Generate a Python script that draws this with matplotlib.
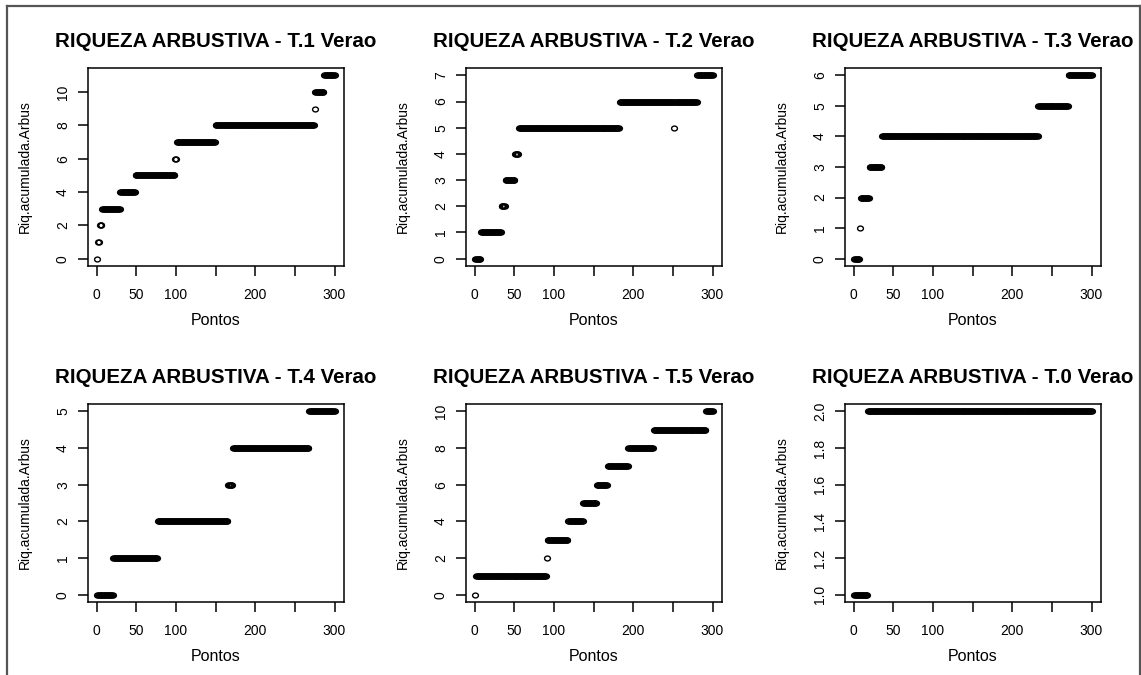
import numpy as np
import matplotlib
matplotlib.use("Agg")
import matplotlib.pyplot as plt
from matplotlib.path import Path
from matplotlib.transforms import Affine2D
from matplotlib.lines import Line2D

plt.rcParams["font.family"] = ["Liberation Sans", "DejaVu Sans"]

# ---------------- data ----------------
n_points = 300
titles = ["RIQUEZA ARBUSTIVA - T.1 Verao", "RIQUEZA ARBUSTIVA - T.2 Verao",
          "RIQUEZA ARBUSTIVA - T.3 Verao", "RIQUEZA ARBUSTIVA - T.4 Verao",
          "RIQUEZA ARBUSTIVA - T.5 Verao", "RIQUEZA ARBUSTIVA - T.0 Verao"]
x_label = "Pontos"
y_label = "Riq.acumulada.Arbus"

# cumulative richness: point index where each value starts, and the value
t1_starts = [1, 2, 4, 7, 30, 49, 99, 101, 150, 275, 276, 287]
t1_values = [0, 1, 2, 3, 4, 5, 6, 7, 8, 9, 10, 11]
t2_starts = [1, 8, 34, 39, 51, 56, 183, 251, 252, 281]
t2_values = [0, 1, 2, 3, 4, 5, 6, 5, 6, 7]
t3_starts = [1, 8, 9, 20, 36, 233, 271]
t3_values = [0, 1, 2, 3, 4, 5, 6]
t4_starts = [1, 21, 77, 166, 172, 268]
t4_values = [0, 1, 2, 3, 4, 5]
t5_starts = [1, 2, 91, 92, 118, 137, 154, 168, 194, 226, 292]
t5_values = [0, 1, 2, 3, 4, 5, 6, 7, 8, 9, 10]
t0_starts = [1, 18]
t0_values = [1, 2]

x_ticks = [0, 50, 100, 150, 200, 250, 300]
x_ticklabels = ["0", "50", "100", "", "200", "", "300"]
y_ticks_list = [[0, 2, 4, 6, 8, 10], [0, 1, 2, 3, 4, 5, 6, 7], [0, 1, 2, 3, 4, 5, 6],
                [0, 1, 2, 3, 4, 5], [0, 2, 4, 6, 8, 10], [1.0, 1.2, 1.4, 1.6, 1.8, 2.0]]
y_ticklabels_list = [["0", "2", "4", "6", "8", "10"], [str(v) for v in range(8)],
                     [str(v) for v in range(7)], [str(v) for v in range(6)],
                     ["0", "2", "4", "6", "8", "10"],
                     ["1.0", "1.2", "1.4", "1.6", "1.8", "2.0"]]

series = [(t1_starts, t1_values), (t2_starts, t2_values), (t3_starts, t3_values),
          (t4_starts, t4_values), (t5_starts, t5_values), (t0_starts, t0_values)]


def expand(starts, values, n):
    x = np.arange(1, n + 1)
    idx = np.searchsorted(np.array(starts), x, side="right") - 1
    return x, np.array(values)[idx]


# ---------------- figure ----------------
W, H = 1141, 675
fig = plt.figure(figsize=(W / 100, H / 100), dpi=100)

col_left = [88, 466, 845]
ax_w = 256
row_top = [68, 404]
ax_h = 198

ellipse = Path.unit_circle().transformed(Affine2D().scale(1.2, 1.0))

for i, (starts, values) in enumerate(series):
    r, c = divmod(i, 3)
    left = col_left[c] / W
    bottom = 1 - (row_top[r] + ax_h) / H
    ax = fig.add_axes([left, bottom, ax_w / W, ax_h / H])
    x, y = expand(starts, values, n_points)
    ax.plot(x, y, linestyle="none", marker=ellipse, markersize=4.2,
            markerfacecolor="none", markeredgecolor="black", markeredgewidth=1.0)
    xr = x.max() - x.min()
    ax.set_xlim(x.min() - 0.04 * xr, x.max() + 0.04 * xr)
    ymin, ymax = y.min(), y.max()
    yr = ymax - ymin
    ax.set_ylim(ymin - 0.04 * yr, ymax + 0.04 * yr)
    ax.set_xticks(x_ticks)
    ax.set_xticklabels(x_ticklabels)
    ax.set_yticks(y_ticks_list[i])
    ax.set_yticklabels(y_ticklabels_list[i], rotation=90, va="center")
    ax.tick_params(direction="out", length=7, width=1.1, labelsize=10, colors="black")
    ax.tick_params(axis="x", pad=9)
    ax.tick_params(axis="y", pad=6)
    for sp in ax.spines.values():
        sp.set_linewidth(1.1)
        sp.set_color("black")
    ax.set_title(titles[i], fontsize=14.8, fontweight="bold", pad=15)
    ax.set_xlabel(x_label, fontsize=11.5)
    ax.xaxis.set_label_coords(0.5, -0.235)
    ax.set_ylabel(y_label, fontsize=10)
    ax.yaxis.set_label_coords(-0.22, 0.5)

# outer frame (left, top, right)
bc = "#555555"
fig.add_artist(Line2D([7 / W, 7 / W], [0, 1 - 6 / H], color=bc, lw=1.6))
fig.add_artist(Line2D([7 / W, 1139.5 / W], [1 - 6 / H, 1 - 6 / H], color=bc, lw=1.6))
fig.add_artist(Line2D([1139.5 / W, 1139.5 / W], [0, 1 - 6 / H], color=bc, lw=1.6))

fig.savefig("out.png", dpi=100, facecolor="white")
